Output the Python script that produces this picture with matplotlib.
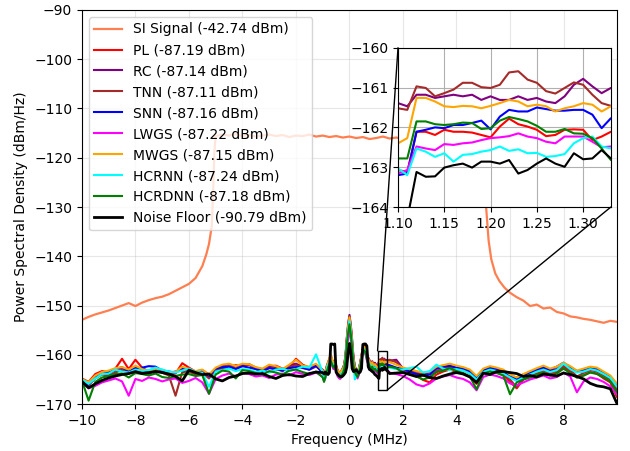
import matplotlib
matplotlib.use("Agg")
import matplotlib.pyplot as plt
import numpy as np
from matplotlib.patches import Rectangle, ConnectionPatch

# SI signal spectrum (MHz, dBm/Hz)
si_freq = [-10.0, -9.75, -9.5, -9.25, -9.0, -8.75, -8.5, -8.25, -8.0, -7.75,
           -7.5, -7.25, -7.0, -6.75, -6.5, -6.25, -6.0, -5.75, -5.5, -5.35,
           -5.25, -5.15, -5.1, -5.05, -5.0,
           -4.75, -4.5, -4.25, -4.0, -3.75, -3.5, -3.25, -3.0, -2.75, -2.5,
           -2.25, -2.0, -1.75, -1.5, -1.25, -1.0, -0.75, -0.5, -0.25, 0.0,
           0.25, 0.5, 0.75, 1.0, 1.25, 1.5, 1.75, 2.0, 2.25, 2.5,
           2.75, 3.0, 3.25, 3.5, 3.75, 4.0, 4.25, 4.5, 4.75,
           5.0, 5.05, 5.1, 5.2, 5.3, 5.45, 5.6, 5.8, 6.0, 6.25,
           6.5, 6.75, 7.0, 7.25, 7.5, 7.75, 8.0, 8.25, 8.5, 8.75,
           9.0, 9.25, 9.5, 9.75, 9.99]
si_db = [-152.9, -152.3, -151.8, -151.4, -151.0, -150.5, -150.0, -149.5, -150.1, -149.4,
         -148.9, -148.5, -148.2, -147.7, -147.0, -146.3, -145.6, -144.4, -142.0, -139.6,
         -137.5, -134.0, -128.0, -119.0, -115.6,
         -115.3, -115.5, -115.2, -115.6, -115.4, -115.7, -115.5, -115.3, -115.6, -115.4,
         -115.8, -115.5, -115.6, -115.3, -115.7, -115.5, -115.8, -115.6, -115.9, -115.7,
         -116.0, -115.8, -116.2, -116.0, -115.7, -116.1, -115.9, -116.2, -115.8, -116.0,
         -115.7, -116.1, -115.8, -116.0, -115.9, -116.2, -115.9, -116.1, -115.9,
         -116.0, -120.5, -129.5, -136.8, -140.6, -143.5, -145.0, -146.4, -147.4, -148.3,
         -149.0, -150.1, -149.8, -150.6, -150.4, -151.3, -151.6, -152.2, -152.4, -152.7,
         -152.9, -153.2, -153.5, -153.1, -153.3]

# residual traces share one grid: coarse far out, finer near DC, finest in zoom band
f_left = np.arange(-10.0, -1.2, 0.25)
f_mid = np.arange(-1.0, 1.06, 0.05)
f_zoom = np.arange(1.10, 1.335, 0.01)
f_right = np.append(np.arange(1.5, 9.8, 0.25), 9.99)
freq = np.concatenate([f_left, f_mid, f_zoom, f_right])

pl_db = np.concatenate([
    [-164.8, -165.5, -163.9, -163.3, -163.5, -162.8, -160.8, -162.9, -161.0, -162.6,
     -163.4, -162.8, -163.3, -164.0, -163.8, -161.7, -162.6, -163.4, -163.1, -164.0,
     -163.0, -162.8, -162.5, -162.1, -162.3, -162.0, -162.7, -162.9, -162.4, -162.2,
     -162.8, -162.5, -160.8, -162.0, -162.6, -162.3],
    [-163.3, -164.2, -163.6, -162.6, -161.8, -161.4, -160.9, -161.6, -162.2, -161.3,
     -162.4, -163.2, -163.9, -164.2, -163.6, -163.0, -162.2, -160.6, -157.2, -154.4,
     -152.6, -154.6, -157.8, -161.0, -162.6, -163.6, -164.1, -163.0, -161.8, -160.3,
     -158.9, -158.6, -159.2, -160.4, -161.2, -161.4, -162.2, -162.0, -162.7, -162.0,
     -162.4, -162.7],
    [-163.07, -163.12, -162.11, -162.11, -162.19, -162.06, -162.11, -162.11, -162.13, -162.19,
     -162.25, -161.98, -161.78, -161.92, -161.98, -162.06, -162.22, -162.19, -162.06, -162.05,
     -162.06, -162.32, -162.23, -162.11],
    [-162.3, -162.8, -163.2, -163.6, -164.2, -165.1, -165.6, -164.0, -163.4, -163.0,
     -163.5, -163.8, -164.4, -165.9, -163.6, -163.2, -163.5, -164.0, -165.5, -166.8,
     -165.0, -164.2, -163.8, -163.2, -164.0, -163.6, -162.4, -163.4, -164.6, -164.2,
     -163.5, -163.8, -164.8, -165.6, -168.5]])

rc_db = np.concatenate([
    [-165.0, -165.8, -164.5, -163.6, -163.8, -163.2, -162.7, -163.4, -162.6, -163.0,
     -163.5, -162.9, -163.1, -163.6, -163.4, -162.9, -163.2, -163.8, -163.3, -164.2,
     -163.0, -162.2, -161.9, -162.4, -162.0, -161.9, -162.6, -163.0, -162.3, -162.5,
     -163.0, -162.2, -161.8, -162.4, -162.7, -162.0],
    [-163.0, -164.0, -163.5, -162.3, -161.5, -160.8, -160.1, -161.0, -161.6, -161.2,
     -162.1, -163.1, -163.5, -163.5, -163.2, -162.7, -162.0, -160.2, -156.6, -153.7,
     -151.9, -153.9, -157.0, -160.5, -162.3, -163.0, -163.4, -162.7, -161.6, -160.0,
     -158.5, -158.2, -158.6, -159.8, -160.5, -161.1, -161.9, -161.3, -161.9, -161.6,
     -162.0, -162.3],
    [-161.39, -161.47, -161.18, -161.18, -161.26, -161.22, -161.18, -161.22, -161.18, -161.31,
     -161.22, -161.31, -161.31, -161.22, -161.31, -161.26, -161.35, -161.39, -161.22, -160.93,
     -160.78, -160.97, -161.14, -161.01],
    [-161.2, -161.0, -162.8, -163.0, -163.4, -163.8, -163.6, -162.8, -162.6, -162.3,
     -162.7, -162.9, -163.5, -164.8, -163.0, -162.6, -162.8, -163.2, -164.2, -164.6,
     -164.0, -163.6, -163.0, -162.4, -163.2, -162.9, -161.9, -162.7, -163.5, -163.4,
     -162.9, -163.1, -163.8, -164.6, -166.0]])

tnn_db = np.concatenate([
    [-164.9, -166.2, -164.8, -164.0, -164.2, -163.6, -163.0, -163.8, -163.1, -163.5,
     -163.9, -163.2, -163.6, -164.2, -168.3, -163.5, -163.4, -164.0, -163.6, -164.8,
     -163.2, -162.6, -162.3, -162.8, -162.2, -162.0, -162.9, -163.2, -162.6, -162.9,
     -163.3, -162.5, -162.1, -162.7, -163.0, -162.4],
    [-163.1, -164.2, -163.4, -162.4, -161.7, -160.9, -160.4, -161.1, -161.8, -161.1,
     -162.3, -163.0, -163.6, -163.6, -163.3, -162.8, -162.1, -160.4, -156.8, -154.0,
     -152.2, -154.2, -157.2, -160.7, -162.4, -163.1, -163.5, -162.9, -161.7, -160.2,
     -158.6, -158.3, -158.7, -159.9, -160.7, -161.2, -162.0, -161.5, -162.1, -161.8,
     -162.2, -162.5],
    [-161.52, -161.56, -160.97, -161.01, -161.22, -161.14, -161.05, -160.88, -160.88, -160.99,
     -161.01, -160.93, -160.62, -160.59, -160.80, -160.88, -161.09, -161.15, -161.01, -160.87,
     -160.93, -161.18, -161.39, -161.46],
    [-161.0, -161.5, -162.9, -163.3, -163.6, -164.2, -164.5, -163.2, -162.8, -162.5,
     -162.9, -163.1, -163.8, -165.4, -163.2, -162.9, -163.1, -163.6, -165.0, -166.6,
     -164.6, -163.8, -163.3, -162.8, -163.7, -163.2, -162.3, -163.0, -164.4, -163.7,
     -163.1, -163.4, -164.2, -165.0, -167.0]])

snn_db = np.concatenate([
    [-165.2, -166.0, -164.6, -163.8, -163.6, -162.9, -162.5, -163.3, -162.8, -162.6,
     -162.3, -162.4, -163.2, -163.4, -163.6, -162.6, -163.0, -163.5, -163.4, -164.3,
     -162.8, -162.5, -162.4, -162.9, -162.3, -162.6, -162.9, -163.4, -162.7, -162.9,
     -163.2, -162.7, -162.5, -162.6, -163.0, -162.2],
    [-163.7, -164.8, -164.0, -163.0, -162.2, -161.5, -160.9, -161.4, -162.3, -161.8,
     -162.8, -163.7, -164.0, -164.3, -163.7, -163.4, -162.6, -160.8, -157.4, -154.8,
     -152.9, -155.0, -157.9, -161.1, -163.0, -163.6, -164.1, -163.4, -162.2, -160.6,
     -159.0, -158.7, -159.3, -160.5, -161.2, -161.8, -162.6, -162.0, -162.6, -162.4,
     -162.8, -163.0],
    [-163.20, -163.16, -162.11, -162.06, -162.00, -162.02, -161.94, -161.94, -161.89, -161.83,
     -162.05, -161.73, -161.56, -161.60, -161.60, -161.50, -161.54, -161.58, -161.58, -161.56,
     -161.56, -161.68, -162.02, -161.77],
    [-162.1, -162.6, -162.9, -163.4, -163.9, -164.2, -164.0, -162.7, -162.4, -162.2,
     -162.6, -162.8, -163.3, -164.6, -163.0, -162.7, -162.9, -163.4, -164.3, -165.0,
     -164.3, -163.6, -163.1, -162.6, -163.0, -162.4, -161.6, -162.5, -163.3, -163.0,
     -162.5, -162.9, -163.6, -164.4, -166.0]])

lwgs_db = np.concatenate([
    [-165.5, -166.8, -166.3, -165.6, -165.2, -164.8, -165.4, -168.3, -164.9, -165.3,
     -164.6, -164.9, -165.4, -165.0, -164.8, -165.7, -165.3, -164.7, -165.6, -167.9,
     -164.9, -164.2, -163.8, -164.4, -163.6, -163.9, -164.4, -164.2, -164.7, -164.0,
     -163.8, -164.2, -163.5, -163.9, -164.1, -163.6],
    [-164.4, -165.3, -164.7, -163.7, -162.9, -162.1, -161.6, -162.2, -162.9, -162.4,
     -163.5, -164.3, -164.7, -164.9, -164.4, -164.1, -163.3, -161.8, -158.6, -156.6,
     -155.0, -156.8, -159.2, -162.4, -163.7, -164.3, -164.8, -164.1, -162.9, -161.3,
     -159.7, -159.4, -159.9, -161.1, -161.9, -162.5, -163.3, -162.7, -163.4, -163.1,
     -163.5, -163.8],
    [-163.16, -163.07, -162.48, -162.53, -162.57, -162.42, -162.44, -162.40, -162.38, -162.32,
     -162.27, -162.25, -162.22, -162.15, -162.23, -162.27, -162.36, -162.40, -162.23, -162.23,
     -162.23, -162.36, -162.50, -162.48],
    [-163.6, -163.9, -164.3, -165.0, -166.0, -166.4, -165.8, -164.8, -164.4, -164.1,
     -164.6, -164.9, -165.6, -167.2, -164.5, -164.0, -164.3, -164.8, -165.8, -166.2,
     -165.6, -165.0, -164.6, -164.2, -164.8, -164.5, -163.6, -164.4, -167.6, -165.4,
     -164.6, -164.9, -165.5, -166.4, -168.0]])

mwgs_db = np.concatenate([
    [-164.9, -165.6, -164.2, -163.5, -163.2, -162.7, -162.5, -163.0, -162.2, -162.9,
     -163.3, -162.8, -163.0, -163.5, -163.5, -162.4, -162.9, -163.3, -163.0, -164.0,
     -162.6, -162.0, -161.8, -162.3, -161.8, -161.9, -162.5, -162.8, -162.0, -162.3,
     -162.9, -162.0, -161.0, -162.2, -162.4, -161.8],
    [-163.2, -164.1, -163.5, -162.5, -161.6, -160.6, -159.9, -160.9, -161.7, -161.3,
     -162.2, -163.1, -163.5, -163.7, -163.2, -162.9, -162.2, -160.5, -156.9, -154.2,
     -152.4, -154.4, -157.3, -160.8, -162.5, -163.1, -163.6, -162.8, -161.8, -160.1,
     -158.5, -158.3, -158.8, -160.0, -160.8, -161.3, -162.1, -161.5, -162.2, -161.9,
     -162.3, -162.6],
    [-162.40, -162.27, -161.26, -161.26, -161.35, -161.47, -161.49, -161.46, -161.47, -161.52,
     -161.46, -161.39, -161.31, -161.35, -161.47, -161.43, -161.47, -161.60, -161.52, -161.47,
     -161.39, -161.43, -161.60, -161.47],
    [-161.5, -162.0, -162.6, -162.9, -163.3, -163.6, -163.4, -162.4, -162.1, -161.8,
     -162.2, -162.5, -163.0, -164.3, -162.8, -162.3, -162.6, -163.0, -164.0, -164.6,
     -163.9, -163.3, -162.7, -162.2, -162.8, -162.4, -161.6, -162.3, -163.2, -162.8,
     -162.4, -162.6, -163.4, -164.2, -165.8]])

hcrnn_db = np.concatenate([
    [-165.0, -165.9, -164.8, -163.9, -163.8, -163.0, -163.4, -163.6, -163.0, -163.2,
     -163.1, -162.6, -163.0, -163.4, -163.6, -163.2, -162.8, -163.5, -163.6, -166.5,
     -163.4, -163.1, -162.8, -163.3, -162.9, -163.0, -163.5, -163.2, -163.6, -163.0,
     -162.8, -163.3, -162.9, -162.4, -162.6, -159.9],
    [-163.6, -165.0, -164.6, -163.0, -162.0, -161.6, -161.2, -161.6, -162.4, -162.0,
     -163.0, -163.8, -164.1, -164.4, -163.8, -163.5, -162.8, -161.0, -157.6, -155.1,
     -153.2, -155.3, -158.2, -161.8, -165.0, -164.2, -163.9, -163.5, -162.3, -160.8,
     -159.2, -158.9, -159.4, -160.6, -161.3, -161.9, -162.7, -162.2, -162.8, -162.5,
     -162.9, -163.1],
    [-163.03, -163.20, -162.53, -162.61, -162.74, -162.65, -162.86, -162.69, -162.67, -162.61,
     -162.57, -162.48, -162.59, -162.55, -162.65, -162.64, -162.74, -162.72, -162.67, -162.40,
     -162.27, -162.23, -162.48, -162.53],
    [-162.6, -162.9, -163.0, -162.7, -162.4, -163.6, -163.3, -162.0, -162.8, -163.1,
     -162.9, -163.2, -163.8, -165.0, -163.5, -163.0, -163.3, -163.8, -164.6, -165.3,
     -164.6, -164.0, -163.4, -163.0, -163.5, -163.1, -161.8, -162.9, -163.6, -163.4,
     -162.9, -163.2, -163.9, -164.7, -166.4]])

hcrdnn_db = np.concatenate([
    [-165.2, -169.3, -165.5, -164.6, -164.3, -163.9, -163.8, -164.6, -163.7, -163.9,
     -164.2, -163.8, -164.5, -164.7, -164.3, -164.0, -163.9, -164.3, -164.1, -167.9,
     -164.0, -163.2, -163.4, -164.8, -163.1, -163.3, -163.7, -164.0, -163.3, -163.6,
     -164.0, -163.2, -163.0, -163.5, -163.9, -163.4],
    [-164.6, -165.5, -164.5, -163.4, -162.6, -161.8, -161.3, -161.9, -162.6, -162.2,
     -163.2, -164.0, -164.4, -164.6, -164.1, -163.8, -163.0, -161.4, -158.0, -155.6,
     -153.8, -155.8, -158.6, -162.2, -163.5, -164.1, -164.5, -163.8, -162.6, -161.0,
     -159.4, -159.1, -159.6, -160.8, -161.6, -162.2, -163.0, -162.4, -163.1, -162.8,
     -163.2, -163.5],
    [-162.78, -162.78, -161.85, -161.85, -161.92, -161.94, -161.92, -161.88, -161.89, -162.04,
     -162.02, -161.83, -161.74, -161.79, -161.85, -161.96, -162.11, -162.11, -162.04, -162.15,
     -162.16, -162.27, -162.53, -162.82],
    [-162.4, -162.7, -163.6, -163.9, -164.4, -165.0, -164.6, -163.5, -163.2, -162.7,
     -163.3, -163.7, -164.4, -167.0, -163.8, -163.4, -163.7, -164.2, -168.0, -165.6,
     -165.0, -164.6, -164.0, -163.6, -164.2, -163.8, -162.8, -163.7, -164.6, -164.2,
     -163.6, -163.9, -164.6, -165.4, -167.5]])

floor_db = np.concatenate([
    [-165.4, -166.7, -165.9, -165.2, -164.7, -164.3, -164.0, -163.8, -163.4, -163.8,
     -163.6, -163.4, -163.6, -163.9, -164.4, -165.3, -163.1, -163.6, -164.0, -163.9,
     -164.9, -165.3, -164.6, -164.3, -163.8, -163.7, -163.9, -163.8, -164.4, -164.8,
     -164.2, -164.0, -164.3, -164.4, -163.8, -163.5],
    [-163.6, -163.9, -163.5, -163.8, -164.0, -163.6, -157.8, -157.8, -157.9, -157.8,
     -163.5, -163.9, -164.2, -164.4, -164.5, -164.3, -164.0, -163.6, -162.5, -159.5,
     -157.7, -159.6, -162.8, -163.4, -163.3, -163.0, -163.4, -163.7, -163.5, -162.8,
     -157.9, -157.8, -157.8, -158.2, -162.4, -163.0, -163.1, -163.4, -163.6, -164.0,
     -164.2, -164.5],
    [-164.80, -164.30, -163.12, -163.24, -163.23, -163.01, -162.95, -162.91, -163.01, -162.86,
     -162.86, -162.91, -162.82, -163.16, -163.07, -162.91, -162.78, -162.91, -162.99, -162.65,
     -162.80, -162.78, -162.57, -162.78],
    [-163.8, -163.7, -163.6, -164.0, -164.4, -164.1, -164.6, -164.8, -164.3, -163.9,
     -163.6, -163.9, -164.5, -165.6, -163.7, -164.0, -163.4, -163.4, -163.6, -163.8,
     -164.4, -164.2, -164.5, -163.9, -164.1, -164.3, -163.7, -164.0, -164.4, -164.9,
     -165.8, -166.3, -166.5, -166.9, -169.8]])

traces = [
    (pl_db, "red", "PL (-87.19 dBm)"),
    (rc_db, "purple", "RC (-87.14 dBm)"),
    (tnn_db, "brown", "TNN (-87.11 dBm)"),
    (snn_db, "blue", "SNN (-87.16 dBm)"),
    (lwgs_db, "magenta", "LWGS (-87.22 dBm)"),
    (mwgs_db, "orange", "MWGS (-87.15 dBm)"),
    (hcrnn_db, "cyan", "HCRNN (-87.24 dBm)"),
    (hcrdnn_db, "green", "HCRDNN (-87.18 dBm)"),
    (floor_db, "black", "Noise Floor (-90.79 dBm)"),
]

fig = plt.figure(figsize=(6.3, 4.51), dpi=100)
ax = fig.add_axes([0.130, 0.104, 0.849, 0.874])

ax.plot(si_freq, si_db, color="coral", lw=1.6, label="SI Signal (-42.74 dBm)")
for vals, col, lab in traces:
    ax.plot(freq, vals, color=col, lw=2.0 if col == "black" else 1.5, label=lab)

ax.set_xlim(-10, 9.99)
ax.set_ylim(-170, -90)
ax.set_xticks(np.arange(-10, 9, 2))
ax.set_xlabel("Frequency (MHz)")
ax.set_ylabel("Power Spectral Density (dBm/Hz)")
ax.grid(True, alpha=0.3)
ax.legend(loc="upper left")

# zoomed view of the residuals just above 1 MHz
axins = ax.inset_axes([0.591, 0.5, 0.398, 0.404])
for vals, col, lab in traces:
    axins.plot(freq, vals, color=col, lw=1.5)
axins.set_xlim(1.10, 1.33)
axins.set_ylim(-164, -160)
axins.set_xticks([1.10, 1.15, 1.20, 1.25, 1.30])
axins.set_yticks([-164, -163, -162, -161, -160])
axins.grid(True)

ax.add_patch(Rectangle((1.05, -167.2), 0.35, 8.0, fill=False, ec="black", lw=1, zorder=5))
for xy_in, xy_main in [((0, 1), (1.05, -159.2)), ((1, 0), (1.40, -167.2))]:
    con = ConnectionPatch(xyA=xy_in, coordsA=axins.transAxes,
                          xyB=xy_main, coordsB=ax.transData,
                          color="black", lw=1, zorder=6)
    fig.add_artist(con)

fig.savefig("out.png", dpi=100)
